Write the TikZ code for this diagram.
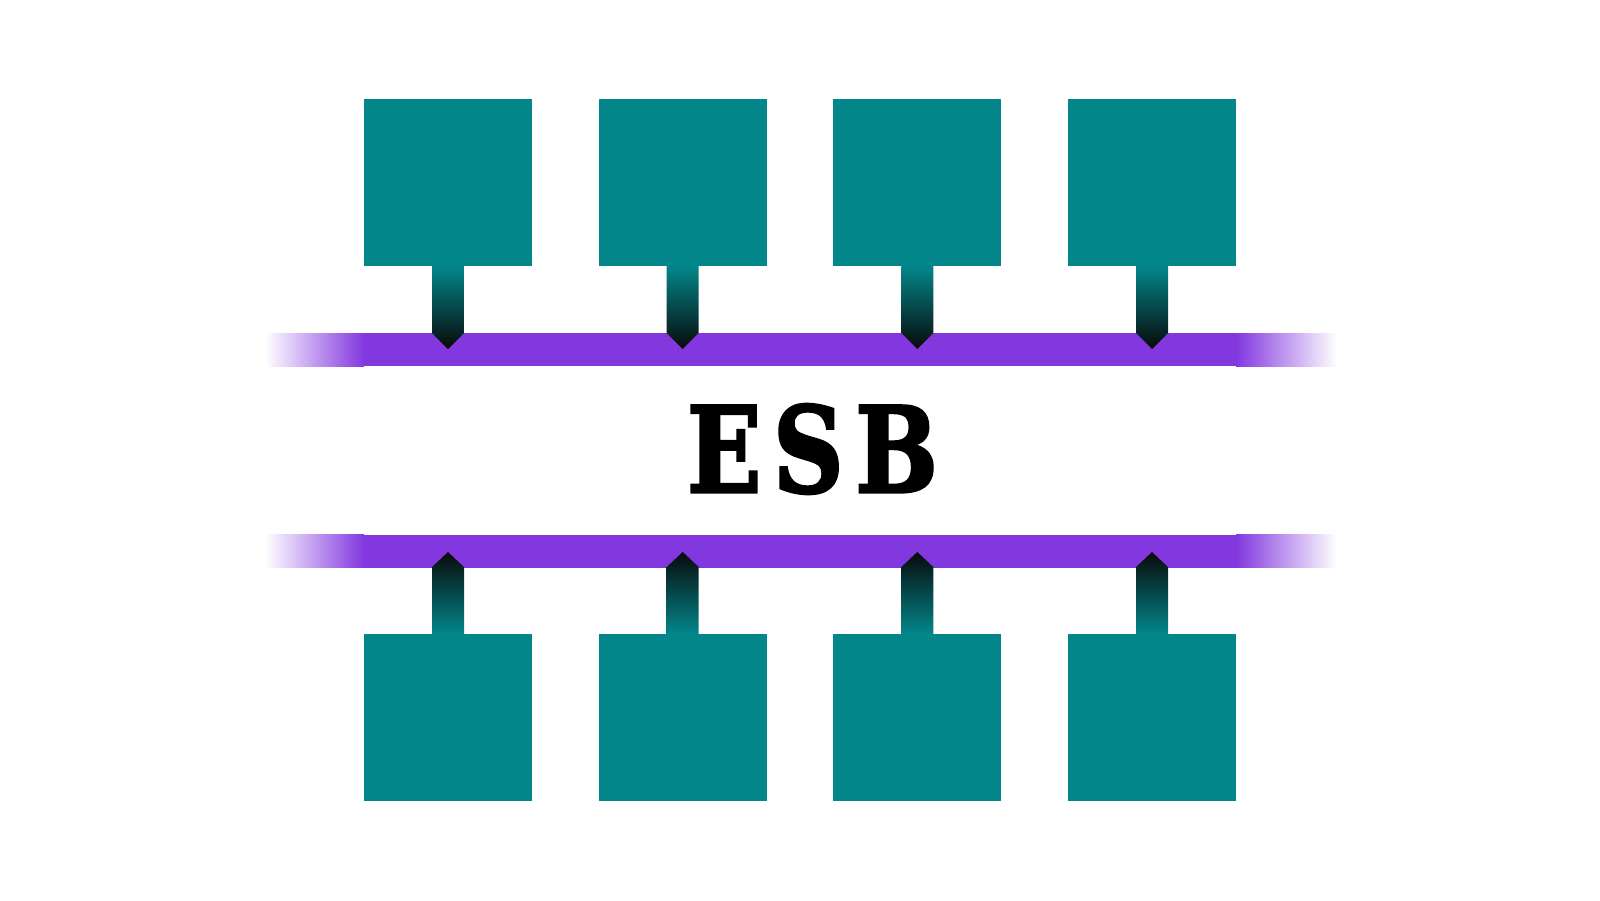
\documentclass[tikz,border=0pt]{standalone}
\usepackage{fontspec}
\newfontfamily\esbfont[BoldFeatures={FakeBold=2.5}]{DejaVu Serif}
\usetikzlibrary{calc}
\definecolor{esbteal}{RGB}{3,134,138}
\definecolor{esbpurple}{RGB}{131,56,223}
\definecolor{esbdark}{RGB}{8,10,10}
\begin{document}
\begin{tikzpicture}[x=1pt,y=-1pt,
  box/.style={fill=esbteal,draw=none,inner sep=0pt,outer sep=0pt,minimum width=168pt,minimum height=167pt},
  bus/.style={fill=esbpurple,draw=none,inner sep=0pt,outer sep=0pt,minimum width=872pt,minimum height=33pt},
  downlink/.style={top color=esbteal,bottom color=esbdark},
  uplink/.style={top color=esbdark,bottom color=esbteal},
  fadeleft/.style={left color=white,right color=esbpurple},
  faderight/.style={left color=esbpurple,right color=white}]
\useasboundingbox (0,0) rectangle (1600,900);
% boxes
\foreach \i/\x in {1/448,2/682.7,3/917.3,4/1152}{
  \node[box] (t\i) at (\x,182.5) {};
  \node[box] (b\i) at (\x,717.5) {};
}
% buses
\node[bus] (bus1) at (800,349.5) {};
\node[bus] (bus2) at (800,551) {};
\foreach \b in {bus1,bus2}{
  \shade[fadeleft] ([xshift=-99pt]\b.north west) rectangle (\b.south west);
  \shade[faderight] (\b.north east) rectangle ([xshift=101pt]\b.south east);
}
% connectors
\foreach \i in {1,...,4}{
  \shade[downlink] ([xshift=-16pt]t\i.south) -- ++(32,0) -- ++(0,67) -- ++(-16,16) -- ++(-16,-16) -- cycle;
  \shade[uplink] ([xshift=-16pt]b\i.north) -- ++(32,0) -- ++(0,-67) -- ++(-16,-15) -- ++(-16,15) -- cycle;
}
% label
\node[inner sep=0pt] (esb) at (812.5,449) {\resizebox{251pt}{88pt}{\esbfont\bfseries E\kern0.12em S\kern0.12em B}};
\end{tikzpicture}
\end{document}
